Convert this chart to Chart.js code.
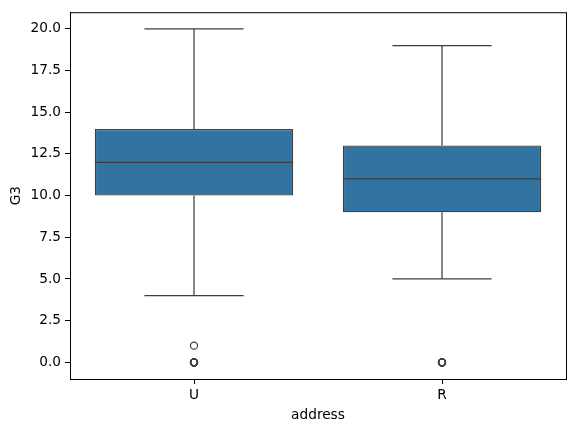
<!DOCTYPE html>
<html>
<head>
<meta charset="utf-8">
<script src="https://cdn.jsdelivr.net/npm/chart.js@4/dist/chart.umd.min.js"></script>
<style>
  html, body { margin: 0; padding: 0; background: #fff; }
  #wrap { width: 576px; height: 432px; }
</style>
</head>
<body>
<div id="wrap"><canvas id="chart" width="576" height="432"></canvas></div>
<script>
const categories = ['U', 'R'];
const whiskerLow = [4, 5];
const q1 = [10, 9];
const median = [12, 11];
const q3 = [14, 13];
const whiskerHigh = [20, 19];
const outliers = [
  [0, 0, 0, 0, 0, 0, 0, 0, 0, 0, 1],
  [0, 0, 0, 0, 0, 0, 0, 0],
];
const yTicks = [0, 2.5, 5, 7.5, 10, 12.5, 15, 17.5, 20];

const BOX_FILL = '#3274a1';
const LINE = '#3f3f3f';
const LW = 1.25;
const FONT = { family: 'DejaVu Sans', size: 13.7 };

const segment = (x0, y0, x1, y1) => ({
  type: 'line',
  order: 0,
  data: [{ x: x0, y: y0 }, { x: x1, y: y1 }],
  borderColor: LINE,
  borderWidth: LW,
  pointRadius: 0,
  fill: false,
});

const datasets = [{
  type: 'bar',
  order: 10,
  data: categories.map((_, i) => ({ x: i, y: [q1[i], q3[i]] })),
  backgroundColor: BOX_FILL,
  borderColor: LINE,
  borderWidth: LW,
  borderSkipped: false,
  barPercentage: 0.8,
  categoryPercentage: 1,
}];

categories.forEach((_, i) => {
  datasets.push(segment(i, q3[i], i, whiskerHigh[i]));
  datasets.push(segment(i, q1[i], i, whiskerLow[i]));
  datasets.push(segment(i - 0.2, whiskerHigh[i], i + 0.2, whiskerHigh[i]));
  datasets.push(segment(i - 0.2, whiskerLow[i], i + 0.2, whiskerLow[i]));
  datasets.push(segment(i - 0.4, median[i], i + 0.4, median[i]));
  datasets.push({
    type: 'scatter',
    order: 0,
    data: outliers[i].map(v => ({ x: i, y: v })),
    pointRadius: 3.5,
    pointBackgroundColor: 'rgba(0,0,0,0)',
    pointBorderColor: LINE,
    pointBorderWidth: LW,
  });
});

// top and right spines
const frame = {
  id: 'frame',
  afterDraw(chart) {
    const { ctx, chartArea: a } = chart;
    ctx.save();
    ctx.strokeStyle = '#000';
    ctx.lineWidth = 1;
    ctx.strokeRect(a.left + 0.5, a.top + 0.5, a.right - a.left, a.bottom - a.top);
    ctx.restore();
  },
};

new Chart(document.getElementById('chart'), {
  type: 'bar',
  data: { datasets },
  plugins: [frame],
  options: {
    responsive: false,
    animation: false,
    layout: { padding: { left: 0, right: 10, top: 9, bottom: 0 } },
    plugins: { legend: { display: false }, tooltip: { enabled: false } },
    scales: {
      x: {
        type: 'linear',
        min: -0.5,
        max: 1.5,
        offset: false,
        afterBuildTicks: s => { s.ticks = categories.map((_, i) => ({ value: i })); },
        afterFit: s => { s.height = 53; },
        ticks: {
          callback: v => categories[v],
          color: '#000',
          font: FONT,
          padding: 3,
          maxRotation: 0,
        },
        grid: { display: true, drawOnChartArea: false, offset: false, tickLength: 5, tickColor: '#000' },
        border: { display: true, color: '#000', width: 1 },
        title: { display: true, text: 'address', color: '#000', font: FONT, padding: { top: 0, bottom: 8 } },
      },
      y: {
        min: -1,
        max: 21,
        afterBuildTicks: s => { s.ticks = yTicks.map(v => ({ value: v })); },
        afterFit: s => { s.width = 70; },
        ticks: {
          callback: v => v.toFixed(1),
          color: '#000',
          font: FONT,
          padding: 4,
        },
        grid: { display: true, drawOnChartArea: false, tickLength: 5, tickColor: '#000' },
        border: { display: true, color: '#000', width: 1 },
        title: { display: true, text: 'G3', color: '#000', font: FONT, padding: { top: 7.8, bottom: 0 } },
      },
    },
  },
});
</script>
</body>
</html>
